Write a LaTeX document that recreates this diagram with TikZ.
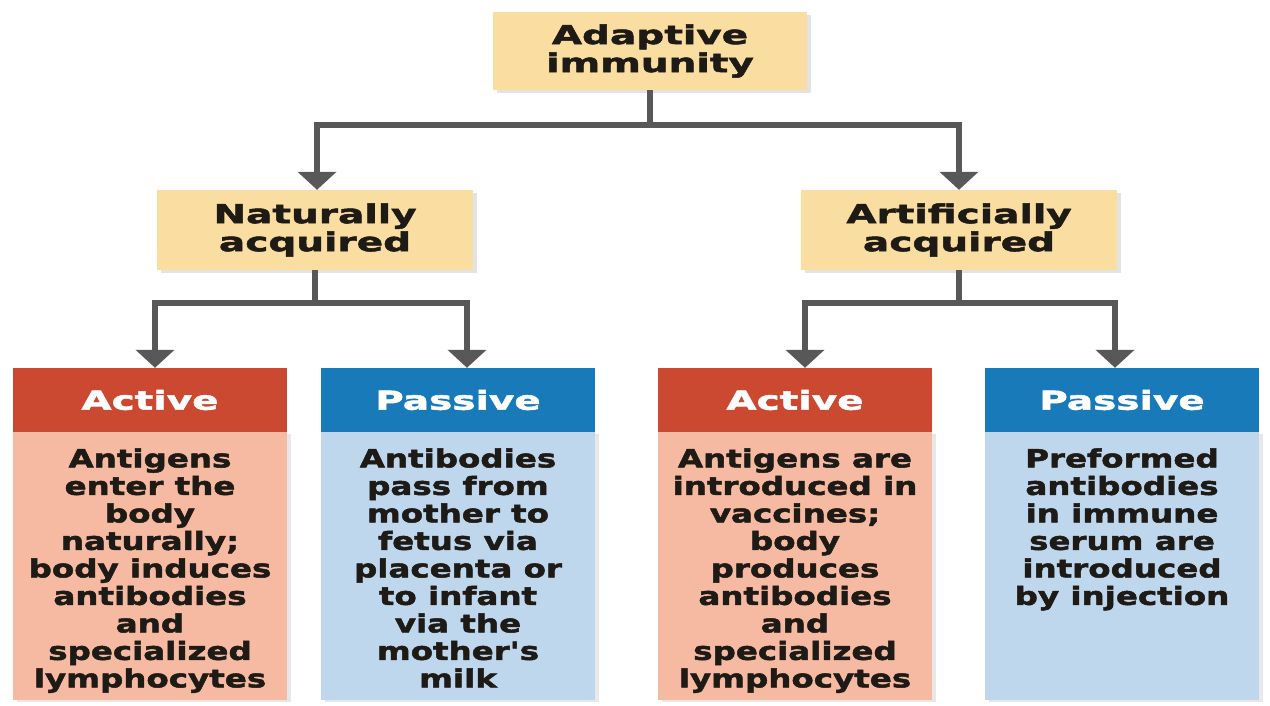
\documentclass[tikz,border=0pt]{standalone}
\usepackage{fontspec}
\usepackage{xcolor}
\usepackage{tikz}
\usetikzlibrary{arrows.meta,positioning,shadows}
\newfontfamily\heavy{DejaVu Sans Bold}[FakeStretch=1.3,FakeBold=2]
\newfontfamily\heavywide{DejaVu Sans Bold}[FakeStretch=1.5,FakeBold=2]
\definecolor{tanbox}{RGB}{250,221,160}
\definecolor{actdark}{RGB}{203,72,49}
\definecolor{actlight}{RGB}{246,186,162}
\definecolor{pasdark}{RGB}{24,122,184}
\definecolor{paslight}{RGB}{190,215,236}
\definecolor{arrgray}{RGB}{88,88,88}
\definecolor{inkdark}{RGB}{30,26,22}
\newcommand\paneltext[1]{\begin{minipage}[t][236pt][t]{272pt}\centering #1\end{minipage}}
\tikzset{
  conn/.style={draw=arrgray, line width=5.5pt, -{Triangle[length=18pt,width=38pt]}},
  tanbox/.style={fill=tanbox, text=inkdark, align=center, inner sep=0pt,
    font=\heavywide\fontsize{26}{28}\selectfont,
    drop shadow={shadow xshift=4pt, shadow yshift=-3pt, opacity=.22, fill=gray}},
  head/.style={minimum width=274pt, minimum height=64pt, inner sep=0pt, text=white,
    font=\heavywide\fontsize{26}{28}\selectfont},
  acthead/.style={head, fill=actdark},
  pashead/.style={head, fill=pasdark},
  panel/.style={anchor=north, minimum width=274pt, minimum height=268pt, inner sep=0pt,
    text=inkdark, font=\heavy\fontsize{25}{27.5}\selectfont,
    drop shadow={shadow xshift=4pt, shadow yshift=-2pt, opacity=.18, fill=gray}},
  actbody/.style={panel, fill=actlight},
  pasbody/.style={panel, fill=paslight}
}
\begin{document}
\begin{tikzpicture}[x=1pt,y=-1pt]
    \useasboundingbox[fill=white] (0,0) rectangle (1270,706);
    % top level
    \node (top) [tanbox, minimum width=314pt, minimum height=78pt] at (650,51)
    {Adaptive\\immunity};
    \node (nat) [tanbox, minimum width=316pt, minimum height=80pt] at (315,230)
    {Naturally\\acquired};
    \node (art) [tanbox, minimum width=316pt, minimum height=80pt] at (959,230)
    {Artificially\\acquired};
    % bottom panels
    \node (act1h) [acthead] at (150,400) {Active};
    \node (act1b) [actbody] at (act1h.south) {\paneltext{Antigens\\enter the\\body\\naturally;\\body induces\\antibodies\\and\\specialized\\lymphocytes}};
    \node (pas1h) [pashead] at (458,400) {Passive};
    \node (pas1b) [pasbody] at (pas1h.south) {\paneltext{Antibodies\\pass from\\mother to\\fetus via\\placenta or\\to infant\\via the\\mother's\\milk}};
    \node (act2h) [acthead] at (795,400) {Active};
    \node (act2b) [actbody] at (act2h.south) {\paneltext{Antigens are\\introduced in\\vaccines;\\body\\produces\\antibodies\\and\\specialized\\lymphocytes}};
    \node (pas2h) [pashead] at (1122,400) {Passive};
    \node (pas2b) [pasbody] at (pas2h.south) {\paneltext{Preformed\\antibodies\\in immune\\serum are\\introduced\\by injection}};
    % connectors
    \draw[conn] (top.south) -- ++(0,35) coordinate (topsplit) -| ([xshift=2pt]nat.north);
    \draw[conn] (topsplit) -| (art.north);
    \draw[conn] (nat.south) -- ++(0,33) coordinate (natsplit) -| ([xshift=5pt]act1h.north);
    \draw[conn] (natsplit) -| ([xshift=9pt]pas1h.north);
    \draw[conn] (art.south) -- ++(0,33) coordinate (artsplit) -| ([xshift=10pt]act2h.north);
    \draw[conn] (artsplit) -| ([xshift=-7pt]pas2h.north);
\end{tikzpicture}
\end{document}
